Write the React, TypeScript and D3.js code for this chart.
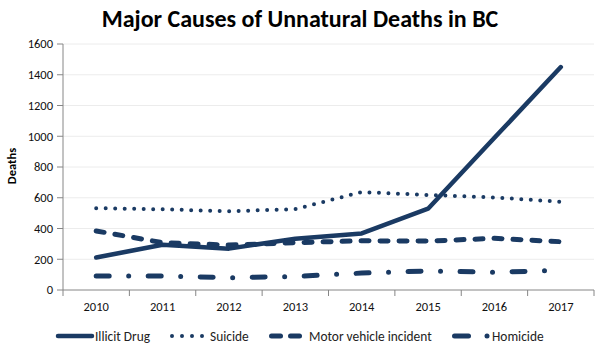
import React from "react";
import * as d3 from "d3";

const years = ["2010", "2011", "2012", "2013", "2014", "2015", "2016", "2017"];
const illicitDrug = [211, 294, 269, 334, 368, 529, 990, 1450];
const suicide = [532, 525, 512, 526, 637, 618, 602, 574];
const motorVehicle = [384, 308, 292, 308, 320, 318, 336, 314];
const homicide = [91, 91, 80, 88, 110, 124, 115, 128];
const yTicks = [0, 200, 400, 600, 800, 1000, 1200, 1400, 1600];

const COLOR = "#1a3a63";
const W = 599, H = 347;
const left = 63, right = 594, top = 44, bottom = 290;
const LEG_Y = 336;

const seriesDefs = [
  { name: "Illicit Drug", values: illicitDrug, width: 4.5, dash: "", cap: "round" },
  { name: "Suicide", values: suicide, width: 4, dash: "0 9.5", cap: "round" },
  { name: "Motor vehicle incident", values: motorVehicle, width: 5, dash: "8 11", cap: "round" },
  { name: "Homicide", values: homicide, width: 5, dash: "13 19.5 0 19.5", cap: "round" },
];

export default function App() {
  const x = d3.scaleBand<string>().domain(years).range([left, right]);
  const y = d3.scaleLinear().domain([0, 1600]).range([bottom, top]);
  const line = d3
    .line<number>()
    .x((_, i) => (x(years[i]) as number) + x.bandwidth() / 2)
    .y((d) => y(d));
  const font = "Calibri, Carlito, Lato, sans-serif";
  const bounds = years.map((yr) => x(yr) as number).concat([right]);

  const legendText = { fontSize: 13.4, fill: "#222" };

  return (
    <svg width={W} height={H} style={{ position: "absolute", left: 0, top: 0, background: "#fff" }} fontFamily={font}>
      <text x={300} y={27} textAnchor="middle" fontSize={24} fontWeight="bold" fill="#000">
        Major Causes of Unnatural Deaths in BC
      </text>
      {yTicks.map((t) => (
        <g key={t}>
          {t > 0 && <line x1={left} x2={right} y1={y(t)} y2={y(t)} stroke="#ececec" strokeWidth={1} />}
          <line x1={left - 6} x2={left} y1={y(t)} y2={y(t)} stroke="#868686" />
          <text x={53} y={y(t)} dy="0.35em" textAnchor="end" fontSize={12.5} fill="#111">
            {t}
          </text>
        </g>
      ))}
      <line x1={left} x2={left} y1={top} y2={bottom} stroke="#868686" />
      <line x1={left} x2={right} y1={bottom} y2={bottom} stroke="#868686" />
      {bounds.map((b, i) => (
        <line key={i} x1={b} x2={b} y1={bottom} y2={bottom + 6} stroke="#868686" />
      ))}
      {years.map((yr) => (
        <text key={yr} x={(x(yr) as number) + x.bandwidth() / 2} y={307} dy="0.35em" textAnchor="middle" fontSize={12.5} fill="#111">
          {yr}
        </text>
      ))}
      <text transform={`translate(12,166) rotate(-90)`} dy="0.35em" textAnchor="middle" fontSize={12.5} fontWeight="bold" fill="#000">
        Deaths
      </text>
      {seriesDefs.map((s) => (
        <path
          key={s.name}
          d={line(s.values) || ""}
          fill="none"
          stroke={COLOR}
          strokeWidth={s.width}
          strokeDasharray={s.dash}
          strokeLinecap={s.cap as any}
          strokeLinejoin="round"
        />
      ))}
      {/* Legend */}
      <g>
        <line x1={58} x2={92} y1={LEG_Y} y2={LEG_Y} stroke={COLOR} strokeWidth={4.5} strokeLinecap="round" />
        <text x={95} y={LEG_Y} dy="0.35em" {...legendText}>{seriesDefs[0].name}</text>

        <line x1={172} x2={203} y1={LEG_Y} y2={LEG_Y} stroke={COLOR} strokeWidth={4} strokeDasharray="0 10" strokeLinecap="round" />
        <text x={210} y={LEG_Y} dy="0.35em" {...legendText}>{seriesDefs[1].name}</text>

        <line x1={271.5} x2={280.5} y1={LEG_Y} y2={LEG_Y} stroke={COLOR} strokeWidth={5} strokeLinecap="round" />
        <line x1={290.5} x2={299.5} y1={LEG_Y} y2={LEG_Y} stroke={COLOR} strokeWidth={5} strokeLinecap="round" />
        <text x={309} y={LEG_Y} dy="0.35em" {...legendText}>{seriesDefs[2].name}</text>

        <line x1={454.5} x2={468.5} y1={LEG_Y} y2={LEG_Y} stroke={COLOR} strokeWidth={5} strokeLinecap="round" />
        <circle cx={487} cy={LEG_Y} r={2.5} fill={COLOR} />
        <text x={492} y={LEG_Y} dy="0.35em" {...legendText}>{seriesDefs[3].name}</text>
      </g>
    </svg>
  );
}
